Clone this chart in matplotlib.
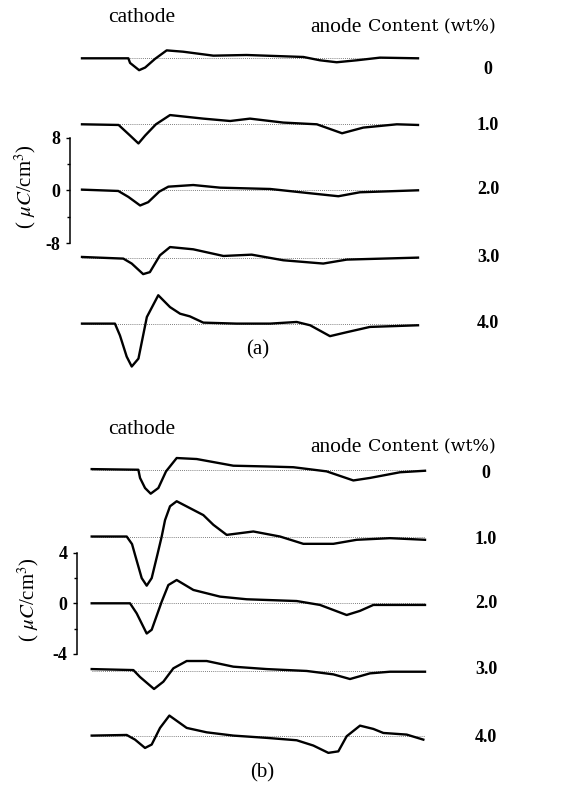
import matplotlib
matplotlib.use("Agg")
import matplotlib.pyplot as plt

plt.rcParams['font.family'] = ['Liberation Serif', 'DejaVu Serif']
plt.rcParams['mathtext.fontset'] = 'stix'

W, H = 563, 785

contents = ['0', '1.0', '2.0', '3.0', '4.0']

# ---- panel (a): position (% of thickness) and charge density (uC/cm3)
a0_x = [0, 13.8, 14.3, 17.0, 18.8, 21.7, 25.2, 30.1, 39.1, 49.0, 65.9, 70.8, 75.8, 81.8, 88.7, 100]
a0_y = [0, 0, -0.7, -1.8, -1.4, -0.1, 1.2, 1.0, 0.4, 0.5, 0.2, -0.3, -0.6, -0.3, 0.1, 0]
a1_x = [0, 10.9, 14.3, 16.8, 18.8, 22.0, 26.2, 36.1, 44.1, 50.0, 59.9, 69.9, 77.4, 83.7, 93.7, 100]
a1_y = [0, -0.1, -1.7, -2.9, -1.7, 0, 1.4, 0.86, 0.5, 0.86, 0.26, 0, -1.36, -0.5, 0, -0.1]
a2_x = [0, 10.8, 13.8, 17.3, 19.7, 23.0, 25.7, 33.1, 41.1, 56.0, 67.9, 76.3, 82.7, 100]
a2_y = [0.1, -0.1, -1.0, -2.3, -1.8, -0.2, 0.55, 0.8, 0.4, 0.2, -0.45, -0.9, -0.3, 0]
a3_x = [0, 12.3, 14.8, 18.2, 20.2, 23.2, 26.2, 33.1, 42.1, 50.5, 59.9, 71.8, 78.8, 100]
a3_y = [0.1, -0.15, -0.9, -2.5, -2.2, 0.35, 1.6, 1.26, 0.25, 0.45, -0.4, -0.9, -0.3, 0]
a4_x = [0, 9.8, 11.3, 13.3, 14.8, 16.8, 19.3, 22.7, 26.2, 29.2, 32.1, 36.1, 46.0, 56.0, 63.9, 67.9, 73.8, 78.8, 85.7, 100]
a4_y = [0, 0, -1.8, -5.0, -6.5, -5.3, 1.0, 4.3, 2.5, 1.5, 1.1, 0.15, 0, 0, 0.25, -0.25, -1.9, -1.3, -0.5, -0.25]

# ---- panel (b)
b0_x = [0, 14.0, 14.5, 16.0, 17.7, 20.0, 22.3, 25.5, 31.5, 42.5, 52.5, 60.5, 70.5, 78.5, 83.5, 92.5, 100]
b0_y = [0.05, 0, -0.65, -1.45, -1.9, -1.45, -0.13, 0.93, 0.85, 0.32, 0.26, 0.2, -0.13, -0.85, -0.65, -0.2, -0.08]
b1_x = [0, 10.5, 12.1, 13.0, 15.0, 16.5, 18.0, 19.7, 21.0, 22.0, 23.5, 25.5, 29.5, 33.5, 36.5, 40.5, 48.5, 56.5, 63.5, 72.5, 79.5, 89.5, 100]
b1_y = [0, 0, -0.6, -1.45, -3.3, -3.9, -3.3, -1.45, 0, 1.3, 2.4, 2.8, 2.25, 1.7, 0.93, 0.13, 0.4, 0, -0.58, -0.58, -0.26, -0.13, -0.26]
b2_x = [0, 11.5, 13.5, 16.5, 18.0, 21.0, 23.0, 25.5, 30.5, 38.5, 46.5, 61.5, 68.5, 76.5, 80.5, 84.5, 100]
b2_y = [0, 0, -0.8, -2.4, -2.1, 0.13, 1.45, 1.85, 1.06, 0.53, 0.32, 0.18, -0.13, -0.93, -0.6, -0.13, -0.13]
b3_x = [0, 12.5, 14.5, 18.7, 21.5, 24.5, 28.5, 34.5, 42.5, 52.5, 64.5, 72.5, 77.5, 83.5, 89.5, 100]
b3_y = [0.13, 0.05, -0.5, -1.45, -0.87, 0.19, 0.77, 0.77, 0.32, 0.13, -0.02, -0.29, -0.66, -0.21, -0.08, -0.08]
b4_x = [0, 10.5, 13.0, 16.0, 18.0, 20.5, 23.3, 28.5, 34.5, 42.5, 52.5, 61.5, 66.5, 71.0, 74.0, 76.5, 80.5, 84.5, 87.5, 94.5, 99.5]
b4_y = [0, 0.05, -0.32, -0.98, -0.71, 0.61, 1.59, 0.61, 0.26, 0, -0.18, -0.37, -0.79, -1.37, -1.25, -0.05, 0.79, 0.53, 0.21, 0.08, -0.32]

a_traces = [(a0_x, a0_y), (a1_x, a1_y), (a2_x, a2_y), (a3_x, a3_y), (a4_x, a4_y)]
b_traces = [(b0_x, b0_y), (b1_x, b1_y), (b2_x, b2_y), (b3_x, b3_y), (b4_x, b4_y)]
a_offsets = [20, 10, 0, -10.2, -20.2]
b_offsets = [10.6, 5.3, 0, -5.35, -10.5]


def fx(px):
    return px / W


def fy(py):
    return 1 - py / H


fig = plt.figure(figsize=(W / 100, H / 100), dpi=100)


def panel(left, right, top, bottom, zero_px, px_per_unit, traces, offsets, bar_x, bar_ticks):
    ax = fig.add_axes([fx(left), fy(bottom), fx(right) - fx(left), fy(top) - fy(bottom)])
    ax.set_xlim(0, 100)
    ax.set_ylim(-(bottom - zero_px) / px_per_unit, (zero_px - top) / px_per_unit)
    for (x, y), off in zip(traces, offsets):
        ax.hlines(off, 0, 100, colors='#555555', linestyles=(0, (1, 1.5)), linewidth=0.6)
        ax.plot(x, [v + off for v in y], color='black', linewidth=1.7, clip_on=False)
    for s in ['top', 'right', 'bottom']:
        ax.spines[s].set_visible(False)
    ax.spines['left'].set_position(('data', bar_x))
    ax.spines['left'].set_bounds(bar_ticks[0], bar_ticks[-1])
    ax.spines['left'].set_linewidth(1.1)
    ax.set_xticks([])
    ax.set_yticks(bar_ticks)
    ax.set_yticklabels([f'{t:g}' for t in bar_ticks])
    ax.set_yticks([bar_ticks[0] / 2, bar_ticks[-1] / 2], minor=True)
    ax.tick_params(axis='y', which='major', length=3, width=1, pad=4, labelsize=13)
    ax.tick_params(axis='y', which='minor', length=2, width=1)
    for lab in ax.get_yticklabels():
        lab.set_fontweight('bold')
    ax.patch.set_visible(False)
    return ax


ax_a = panel(82, 418, 30, 375, 190.3, 6.6, a_traces, a_offsets, -3.6, [-8, 0, 8])
ax_b = panel(91.7, 425, 440, 760, 603.3, 12.6, b_traces, b_offsets, -4.3, [-4, 0, 4])

# headers
for top_y, cat_y in [(27, 17), (447, 430)]:
    fig.text(fx(108), fy(cat_y), 'cathode', fontsize=15.5, ha='left', va='center')
    fig.text(fx(362), fy(top_y), 'anode', fontsize=15.5, ha='right', va='center')
    fig.text(fx(368), fy(top_y), 'Content (wt%)', fontsize=12.5, family='DejaVu Serif',
             ha='left', va='center')

a_label_y = [69, 125, 190, 258, 324]
b_label_y = [473, 539, 604, 670, 738]
for lab, ya, yb in zip(contents, a_label_y, b_label_y):
    fig.text(fx(488), fy(ya), lab, fontsize=13, fontweight='bold', ha='center', va='center')
    fig.text(fx(486), fy(yb), lab, fontsize=13, fontweight='bold', ha='center', va='center')

fig.text(fx(258), fy(350), '(a)', fontsize=15, ha='center', va='center')
fig.text(fx(262), fy(773), '(b)', fontsize=15, ha='center', va='center')

ylab = r'( $\mathit{\mu C}$/cm$^{3}$)'
fig.text(fx(25), fy(187), ylab, fontsize=15, rotation=90, ha='center', va='center')
fig.text(fx(28), fy(600), ylab, fontsize=15, rotation=90, ha='center', va='center')

fig.savefig('out.png', dpi=100, facecolor='white')
